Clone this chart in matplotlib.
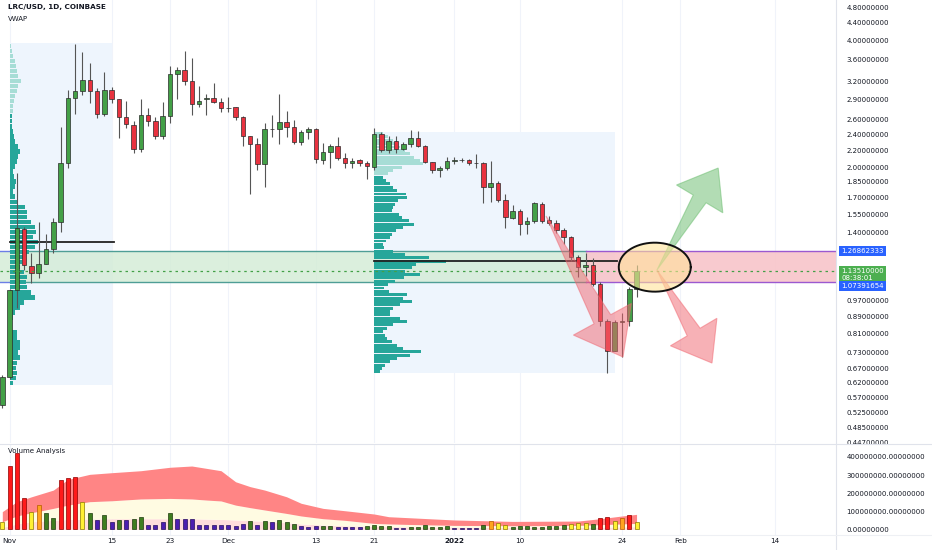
import numpy as np
import pandas as pd
import matplotlib
matplotlib.use('Agg')
import matplotlib.pyplot as plt
from matplotlib.patches import Polygon
from matplotlib.lines import Line2D
from matplotlib.transforms import blended_transform_factory
from matplotlib.ticker import FixedLocator, NullLocator, FuncFormatter

# ---- data (LRC/USD daily, from 2021-10-31) ----
start_date = '2021-10-31'

opens = [0.549, 0.638, 1.026, 1.43, 1.17, 1.124, 1.182, 1.283, 1.484, 2.047,
         2.927, 3.03, 3.224, 3.03, 2.675, 3.053, 2.902, 2.63, 2.522, 2.209,
         2.664, 2.582, 2.378, 2.653, 3.331, 3.405, 3.206, 2.824, 2.90, 2.93,
         2.86, 2.772, 2.778, 2.63, 2.378, 2.27, 2.04, 2.464, 2.464, 2.56,
         2.491, 2.303, 2.424, 2.464, 2.085, 2.181, 2.25, 2.103, 2.053, 2.085,
         2.045, 2.01, 2.401, 2.201, 2.315, 2.212, 2.27, 2.354, 2.253, 2.058,
         1.973, 1.99, 2.076, 2.085, 2.09, 2.05, 2.045, 1.80, 1.835, 1.68,
         1.522, 1.578, 1.47, 1.497, 1.64, 1.50, 1.475, 1.423, 1.368, 1.23,
         1.161, 1.175, 1.06, 0.868, 0.737, 0.863, 0.865, 1.031]
highs = [0.645, 1.03, 1.938, 1.45, 1.255, 1.488, 1.392, 1.519, 2.499, 3.053,
         3.923, 3.762, 3.542, 3.086, 3.373, 3.10, 2.91, 2.88, 2.58, 2.90,
         2.763, 2.63, 2.864, 3.48, 3.455, 3.776, 3.629, 3.12, 2.982, 3.177,
         2.92, 2.94, 2.78, 2.65, 2.38, 2.346, 2.546, 2.664, 2.987, 2.727,
         2.59, 2.454, 2.5, 2.477, 2.29, 2.28, 2.359, 2.16, 2.11, 2.1,
         2.07, 2.477, 2.43, 2.37, 2.38, 2.30, 2.454, 2.44, 2.26, 2.06,
         2.02, 2.12, 2.12, 2.11, 2.1, 2.15, 2.06, 2.076, 1.86, 1.731,
         1.63, 1.60, 1.53, 1.66, 1.66, 1.54, 1.50, 1.436, 1.375, 1.24,
         1.255, 1.22, 1.07, 0.875, 0.87, 0.903, 1.045, 1.175]
lows = [0.540, 0.630, 0.93, 1.144, 1.066, 1.093, 1.18, 1.255, 1.41, 2.0,
        2.679, 2.97, 2.839, 2.616, 2.653, 2.849, 2.346, 2.477, 2.169, 2.18,
        2.509, 2.333, 2.333, 2.546, 2.902, 3.137, 2.664, 2.778, 2.664, 2.84,
        2.712, 2.71, 2.592, 2.25, 1.731, 1.973, 1.802, 2.368, 2.274, 2.359,
        2.274, 2.26, 2.333, 2.047, 2.04, 2.0, 2.085, 1.995, 2.0, 2.02,
        1.876, 1.973, 2.18, 2.16, 2.17, 2.20, 2.24, 2.24, 2.047, 1.938,
        1.903, 1.97, 2.04, 2.06, 2.03, 2.0, 1.646, 1.66, 1.656, 1.436,
        1.51, 1.385, 1.39, 1.48, 1.475, 1.46, 1.40, 1.318, 1.203, 1.099,
        1.11, 1.05, 0.843, 0.651, 0.735, 0.713, 0.843, 0.986]
closes = [0.638, 1.026, 1.439, 1.175, 1.124, 1.182, 1.283, 1.484, 2.047, 2.927,
          3.041, 3.224, 3.03, 2.679, 3.053, 2.902, 2.63, 2.532, 2.209, 2.664,
          2.582, 2.375, 2.653, 3.331, 3.405, 3.206, 2.824, 2.88, 2.93, 2.86,
          2.772, 2.768, 2.63, 2.378, 2.27, 2.04, 2.464, 2.47, 2.56, 2.491,
          2.303, 2.424, 2.464, 2.096, 2.181, 2.25, 2.103, 2.053, 2.075, 2.045,
          2.017, 2.401, 2.201, 2.315, 2.212, 2.27, 2.354, 2.253, 2.058, 1.973,
          1.99, 2.076, 2.085, 2.086, 2.045, 2.051, 1.796, 1.835, 1.68, 1.525,
          1.578, 1.47, 1.497, 1.646, 1.497, 1.475, 1.423, 1.368, 1.23, 1.161,
          1.175, 1.06, 0.868, 0.737, 0.863, 0.865, 1.031, 1.1351]

# volume in millions
volumes = [42, 350, 424, 175, 94, 133, 88, 62, 272, 282,
           287, 151, 88, 50, 77, 40, 54, 50, 55, 68,
           26, 26, 43, 92, 57, 57, 57, 22, 22, 26,
           26, 22, 17, 28, 48, 24, 46, 40, 50, 43,
           31, 17, 13, 18, 18, 18, 15, 11, 11, 11,
           18, 26, 17, 17, 9, 9, 15, 15, 22, 15,
           15, 20, 9, 9, 9, 9, 22, 48, 33, 26,
           15, 18, 18, 15, 15, 17, 20, 22, 31, 33,
           35, 28, 62, 68, 44, 62, 81, 43]
vol_class = ("YRRRYOGGRR" "RYGPGPGPGG" "PPPGPPPPPP" "PPPPGPGPGG" "GPPPGGPPPP"
             "GGGGPPGGGG" "GGPPPPGOYY" "GGGGGGGGYY" "YGRRYORY")

# volume analysis bands (millions) at sampled bars
band_idx = [0, 2, 4, 7, 9, 12, 15, 19, 23, 26, 28, 30, 32, 34, 36, 39, 41, 44,
            47, 51, 53, 56, 62, 70, 79, 82, 85, 87]
band_high = [98, 153, 180, 217, 276, 304, 313, 324, 343, 350, 337, 324, 263, 236,
             217, 180, 144, 116, 103, 85, 70, 64, 52, 44, 46, 59, 74, 83]
band_mid = [42, 74, 92, 116, 134, 153, 158, 168, 171, 168, 162, 157, 134, 120,
            107, 88, 74, 59, 50, 33, 30, 27, 22, 20, 22, 26, 30, 33]
band_low = [11, 30, 42, 50, 55, 57, 59, 59, 59, 59, 57, 55, 52, 48,
            45, 37, 30, 24, 20, 17, 15, 14, 12, 11, 11, 12, 14, 15]

# fixed range volume profiles (rows listed top -> bottom)
prof1_days = (1, 15)
prof1_range = (0.611, 3.945)
prof1 = [1.0, 2.0, 3.3, 4.6, 5.8, 7.0, 8.3, 10.7, 8.3, 6.7,
         5.0, 4.2, 3.6, 3.0, 2.2, 1.8, 2.7, 3.2, 4.2, 5.5,
         8.3, 10, 8.3, 6.7, 5, 3.3, 4, 6, 5, 3.3,
         5, 8.3, 14.5, 16, 16.7, 20, 23.3, 25, 21.7, 26.7,
         23.3, 18.3, 13.3, 11.7, 10, 13.3, 16.7, 15, 16.7, 20,
         23.3, 13.3, 10, 5, 3.3, 2.7, 1.7, 6.7, 7.3, 9.3,
         10, 8.3, 10, 6.7, 6, 6.7, 6, 3.3]
prof1_light = 14
prof2_days = (51, 84)
prof2_range = (0.651, 2.432)
prof2 = [9.3, 14, 19.3, 22, 26, 31, 36, 40, 46, 49.3,
         28, 19, 14, 9.3, 12, 16, 19.3, 23, 32, 33,
         24, 21, 19, 18, 25, 28, 35, 40, 29, 22,
         18.5, 16, 12, 8.5, 10, 19, 31, 55, 72.7, 42,
         38, 31, 46, 30, 21, 14, 10, 15, 33, 29.3,
         37.7, 26, 19.3, 16, 16, 26, 32.7, 19.3, 12.7, 9.3,
         11, 12.7, 17.7, 22.7, 29.3, 47.7, 36, 22.7, 16, 11,
         7.7, 6]
prof2_light = 13

zone_top = 1.26862333
zone_bot = 1.07391654
zone_switch_day = 80.1
last_price = 1.1351

price_ticks = [4.8, 4.4, 4.0, 3.6, 3.2, 2.9, 2.6, 2.4, 2.2, 2.0, 1.85, 1.7, 1.55,
               1.4, 0.97, 0.89, 0.81, 0.73, 0.67, 0.62, 0.57, 0.525, 0.485, 0.447]
vol_ticks = [0, 100, 200, 300, 400]
tick_dates = ['2021-11-01', '2021-11-15', '2021-11-23', '2021-12-01', '2021-12-13',
              '2021-12-21', '2022-01-01', '2022-01-10', '2022-01-24', '2022-02-01',
              '2022-02-14']
tick_labels = ['Nov', '15', '23', 'Dec', '13', '21', '2022', '10', '24', 'Feb', '14']

# drawings: (tail day, tail price, tip day, tip price, colour, head px)
arrows = [(74.58, 1.536, 85.14, 0.712, '#f0646e', (43, 33, 9.5)),
          (89.8, 1.144, 98.2, 1.995, '#66bb6a', (36, 27, 7.5)),
          (89.8, 1.144, 97.35, 0.689, '#f0646e', (36, 27, 7.5))]
ellipse_center = (89.5, 1.162)

# ---- figure ----
W, H = 932.0, 550.0
fig = plt.figure(figsize=(W / 100, H / 100), dpi=100)
fig.patch.set_facecolor('white')


def px_rect(x0, y0, x1, y1):
    return [x0 / W, 1 - y1 / H, (x1 - x0) / W, (y1 - y0) / H]


ax = fig.add_axes(px_rect(0, 0, 836, 443))
axv = fig.add_axes(px_rect(0, 445, 836, 535), sharex=ax)

days = np.arange(len(opens))
o = np.array(opens); h = np.array(highs); l = np.array(lows); c = np.array(closes)
xmin, xmax = -0.3155, 114.36

ax.set_yscale('log')
ax.set_xlim(xmin, xmax)
ax.set_ylim(0.4455, 4.987)
axv.set_ylim(-31, 466)

tick_pos = (pd.to_datetime(tick_dates) - pd.Timestamp(start_date)).days.values

# vertical grid
for t in tick_pos:
    ax.axvline(t, color='#f0f3fa', lw=0.8, zorder=0.5)
    axv.axvline(t, color='#f0f3fa', lw=0.8, zorder=0.5)

# profile boxes + rows
for (d0, d1), (pl, ph), prof, nlight, frac in [(prof1_days, prof1_range, prof1, prof1_light, 0.28),
                                              (prof2_days, prof2_range, prof2, prof2_light, 0.30)]:
    ax.fill_between([d0, d1], pl, ph, color='#eef5fd', lw=0, zorder=1)
    vals = np.array(prof[::-1])
    edges = np.geomspace(pl, ph, len(vals) + 1)
    widths = vals / vals.max() * (d1 - d0) * frac
    cols = ['#26a69a'] * (len(vals) - nlight) + ['#a7ddd6'] * nlight
    ax.barh(edges[:-1], widths, height=np.diff(edges) * 0.88, left=d0, align='edge',
            color=cols, lw=0, zorder=3)
    k = np.argmax(vals)
    poc = np.sqrt(edges[k] * edges[k + 1])
    ax.plot([d0, d1 + 0.3], [poc, poc], color='#222222', lw=1.3, zorder=3.5)

# zones
ax.fill_between([xmin, zone_switch_day], zone_bot, zone_top, color='#d3ecd5', alpha=0.8, lw=0, zorder=2)
ax.fill_between([zone_switch_day, xmax], zone_bot, zone_top, color='#f8c5ca', alpha=0.9, lw=0, zorder=2)
for yv in (zone_top, zone_bot):
    ax.plot([xmin, 1.0], [yv, yv], color='#6c7ee6', lw=1.0, zorder=2.5)
    ax.plot([1.0, zone_switch_day], [yv, yv], color='#4f9e96', lw=1.0, zorder=2.5)
    ax.plot([zone_switch_day, xmax], [yv, yv], color='#9b59d0', lw=1.0, zorder=2.5)

# candles
up = c >= o
ax.vlines(days, l, h, color='#555555', lw=0.8, zorder=4)
ax.bar(days, np.abs(c - o), bottom=np.minimum(o, c), width=0.62,
       color=np.where(up, '#43a047', '#e8323f'), edgecolor='#2a2a2a', lw=0.5, zorder=5)

ax.axhline(last_price, color='#43a047', lw=0.9, ls=(0, (2, 3)), zorder=5.5)

# drawings
ax.figure.canvas.draw()


def arrow_poly(tail, tip, head_len, head_hw, shaft_hw):
    pts = ax.transData.transform([tail, tip])
    p0, p1 = pts[0], pts[1]
    u = (p1 - p0) / np.hypot(*(p1 - p0))
    n = np.array([-u[1], u[0]])
    base = p1 - u * head_len
    poly = [p0, base + n * shaft_hw, base + n * head_hw, p1,
            base - n * head_hw, base - n * shaft_hw]
    return ax.transData.inverted().transform(poly)


for x0, y0, x1, y1, col, hd in arrows:
    ax.add_patch(Polygon(arrow_poly((x0, y0), (x1, y1), *hd), closed=True, facecolor=col,
                         edgecolor=col, alpha=0.5, lw=0.8, zorder=6))

cpx = ax.transData.transform([ellipse_center])[0]
tt = np.linspace(0, 2 * np.pi, 200)
ell = np.column_stack([cpx[0] + 36 * np.cos(tt), cpx[1] + 24.5 * np.sin(tt)])
ell = ax.transData.inverted().transform(ell)
ax.fill(ell[:, 0], ell[:, 1], color='#ffe39a', alpha=0.6, lw=0, zorder=7)
ax.plot(ell[:, 0], ell[:, 1], color='#111111', lw=1.4, zorder=7.1)

# volume pane
vcol = {'R': ('#ff1a1a', '#8b0000'), 'O': ('#ffa21f', '#b35a00'), 'Y': ('#fff033', '#8a7a00'),
        'G': ('#3f7d20', '#1d3b0e'), 'P': ('#4b1fb0', '#230d5c')}
axv.fill_between(band_idx, 0, band_low, color='#ffdcdc', lw=0, zorder=1)
axv.fill_between(band_idx, band_low, band_mid, color='#fffbe2', lw=0, zorder=1)
axv.fill_between(band_idx, band_mid, band_high, color='#ff8585', lw=0, zorder=1)
axv.bar(days, volumes, width=0.55, color=[vcol[k][0] for k in vol_class],
        edgecolor=[vcol[k][1] for k in vol_class], lw=0.5, zorder=3)

# axes styling
for a in (ax, axv):
    for s in a.spines.values():
        s.set_visible(False)
    a.set_facecolor('none')
    a.yaxis.tick_right()
    a.tick_params(axis='y', length=0, pad=7.5, labelsize=5.0, labelcolor='#131722')

ax.yaxis.set_major_locator(FixedLocator(price_ticks))
ax.yaxis.set_minor_locator(NullLocator())
ax.yaxis.set_major_formatter(FuncFormatter(lambda v, p: f'{v:.8f}'))
ax.tick_params(axis='x', bottom=False, labelbottom=False)

axv.yaxis.set_major_locator(FixedLocator(vol_ticks))
axv.yaxis.set_major_formatter(FuncFormatter(lambda v, p: f'{v * 1e6:.8f}'))
axv.set_xticks(tick_pos)
axv.set_xticklabels(tick_labels)
axv.tick_params(axis='x', length=0, pad=2.5, labelsize=5.2, labelcolor='#131722')
for lab in axv.get_xticklabels():
    if lab.get_text() == '2022':
        lab.set_fontweight('bold')

# price labels on the right
bt = blended_transform_factory(ax.transAxes, ax.transData)
lx = 841 / 836
box = dict(boxstyle='square,pad=0.3', ec='none')
ax.annotate(f'{zone_top:.8f}', xy=(lx, zone_top), xycoords=bt, fontsize=5.0, color='white',
            va='center', ha='left', zorder=10, annotation_clip=False,
            bbox=dict(box, fc='#2962ff'))
ax.annotate(f'{last_price:.8f}\n08:38:01', xy=(lx, last_price), xycoords=bt,
            xytext=(0, 2.6), textcoords='offset points', fontsize=5.0, color='white',
            va='top', ha='left', zorder=10, annotation_clip=False, linespacing=1.25,
            bbox=dict(box, fc='#4caf50'))
ax.annotate(f'{zone_bot:.8f}', xy=(lx, zone_bot), xycoords=bt,
            xytext=(0, -3.4), textcoords='offset points', fontsize=5.0, color='white',
            va='center', ha='left', zorder=11, annotation_clip=False,
            bbox=dict(box, fc='#2962ff'))

# separators and titles
fig.add_artist(Line2D([836 / W, 836 / W], [0, 1], color='#e0e3eb', lw=0.8))
fig.add_artist(Line2D([0, 1], [1 - 444 / H, 1 - 444 / H], color='#e0e3eb', lw=0.8))
fig.add_artist(Line2D([0, 1], [1 - 535 / H, 1 - 535 / H], color='#eef0f4', lw=0.8))
fig.text(8 / W, 1 - 7.5 / H, 'LRC/USD, 1D, COINBASE', fontsize=5.2, fontweight='bold',
         color='#131722', va='center', ha='left')
fig.text(8 / W, 1 - 19 / H, 'VWAP', fontsize=5.0, color='#131722', va='center', ha='left')
fig.text(8 / W, 1 - 451 / H, 'Volume Analysis', fontsize=5.0, color='#131722', va='center', ha='left')

fig.savefig('out.png', dpi=100, facecolor='white')
